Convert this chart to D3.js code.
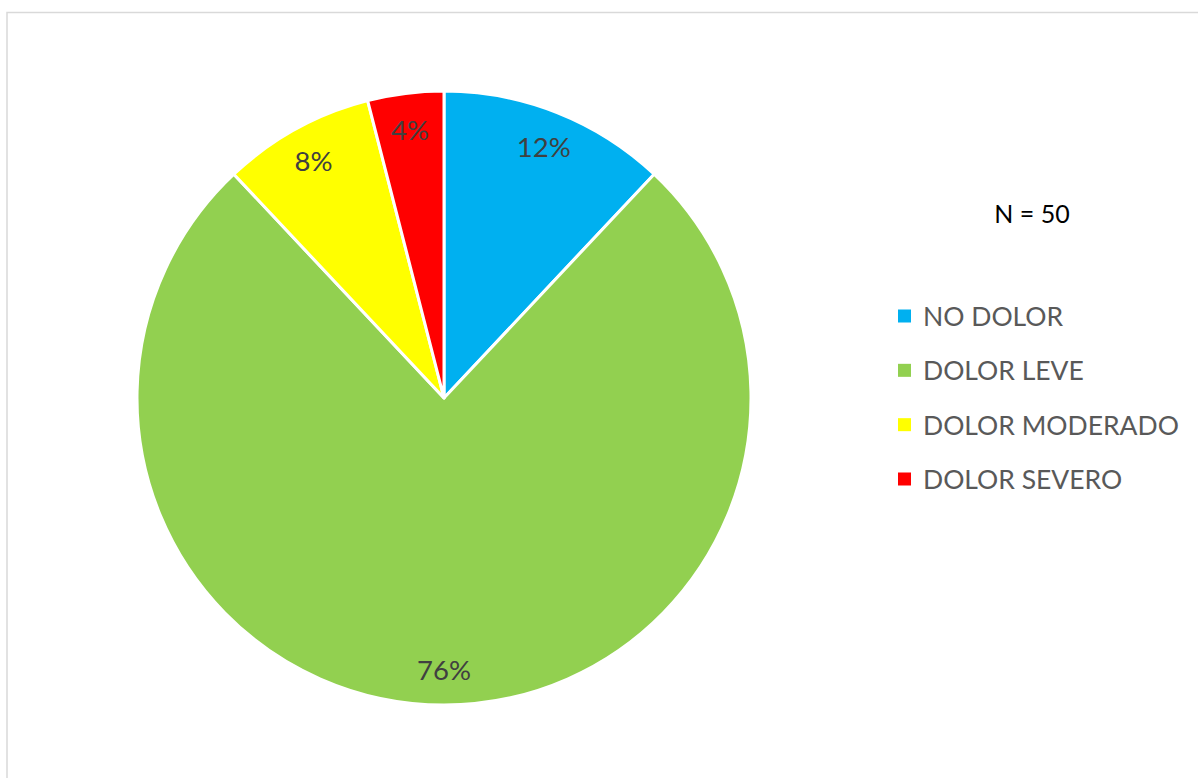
<!DOCTYPE html>
<html>
<head>
<meta charset="utf-8">
<script src="https://cdn.jsdelivr.net/npm/d3@7"></script>
<style>
  html, body { margin: 0; padding: 0; background: #fff; }
  svg { display: block; }
</style>
</head>
<body>
<svg id="chart" width="1198" height="778"></svg>
<script>
// Pain levels reported by the sample (percent of N = 50)
const categories = ["NO DOLOR", "DOLOR LEVE", "DOLOR MODERADO", "DOLOR SEVERO"];
const percentages = [12, 76, 8, 4];
const colors = ["#00b0f0", "#92d050", "#ffff00", "#ff0000"];
const sampleNote = "N = 50";

const svg = d3.select("#chart");
const font = "Lato, 'Open Sans', sans-serif";

// chart frame (top and left edges)
svg.append("path")
  .attr("d", "M7,778 V12.5 H1198")
  .attr("fill", "none")
  .attr("stroke", "#d9d9d9")
  .attr("stroke-width", 1.5);

const cx = 444, cy = 398, radius = 307;

const data = categories.map((c, i) => ({ cat: c, value: percentages[i], color: colors[i] }));

const pie = d3.pie().value(d => d.value).sort(null);
const arc = d3.arc().innerRadius(0).outerRadius(radius);
const labelArc = d3.arc().innerRadius(271).outerRadius(271);

const g = svg.append("g").attr("transform", `translate(${cx},${cy})`);
const arcs = pie(data);

g.selectAll("path.slice")
  .data(arcs)
  .join("path")
  .attr("class", "slice")
  .attr("d", arc)
  .attr("fill", d => d.data.color)
  .attr("stroke", "#fff")
  .attr("stroke-width", 3)
  .attr("stroke-linejoin", "round");

g.selectAll("text.pct")
  .data(arcs)
  .join("text")
  .attr("class", "pct")
  .attr("transform", d => `translate(${labelArc.centroid(d)})`)
  .attr("text-anchor", "middle")
  .attr("dominant-baseline", "central")
  .attr("font-family", font)
  .attr("font-size", 27.5)
  .attr("fill", "#404040")
  .text(d => d.data.value + "%");

// sample size note
svg.append("text")
  .attr("x", 1032)
  .attr("y", 213)
  .attr("text-anchor", "middle")
  .attr("dominant-baseline", "central")
  .attr("font-family", font)
  .attr("font-size", 25)
  .attr("fill", "#000")
  .text(sampleNote);

// legend
const legendY = d3.scalePoint().domain(categories).range([316, 479]);
const legend = svg.append("g");
const items = legend.selectAll("g.item")
  .data(data)
  .join("g")
  .attr("class", "item")
  .attr("transform", d => `translate(898,${legendY(d.cat)})`);

items.append("rect")
  .attr("x", 0).attr("y", -6.5)
  .attr("width", 13).attr("height", 13)
  .attr("fill", d => d.color);

items.append("text")
  .attr("x", 25)
  .attr("y", 0)
  .attr("dominant-baseline", "central")
  .attr("font-family", font)
  .attr("font-size", 26.5)
  .attr("fill", "#595959")
  .text(d => d.cat);
</script>
</body>
</html>
